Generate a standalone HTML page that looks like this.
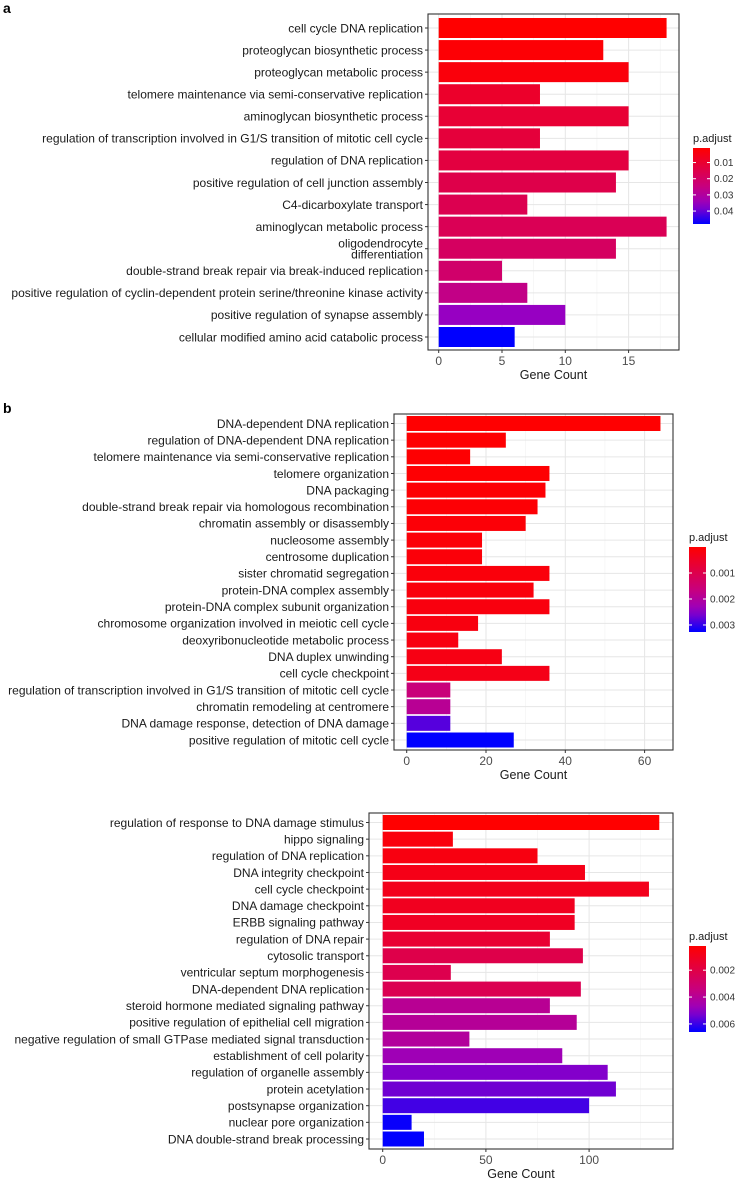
<!DOCTYPE html>
<html><head><meta charset="utf-8"><style>
html,body{margin:0;padding:0;background:#fff}
svg{display:block;font-family:"Liberation Sans",Arial,sans-serif}
</style></head><body>
<svg id="fig" width="736" height="1181" viewBox="0 0 736 1181" xmlns="http://www.w3.org/2000/svg">
<text x="3" y="13" font-size="14" font-weight="bold">a</text>
<text x="3" y="413" font-size="14" font-weight="bold">b</text>
</svg>
<script>
// Panel a data
const catsA = ["cell cycle DNA replication","proteoglycan biosynthetic process","proteoglycan metabolic process","telomere maintenance via semi-conservative replication","aminoglycan biosynthetic process","regulation of transcription involved in G1/S transition of mitotic cell cycle","regulation of DNA replication","positive regulation of cell junction assembly","C4-dicarboxylate transport","aminoglycan metabolic process","oligodendrocyte|differentiation","double-strand break repair via break-induced replication","positive regulation of cyclin-dependent protein serine/threonine kinase activity","positive regulation of synapse assembly","cellular modified amino acid catabolic process"];
const countsA = [18,13,15,8,15,8,15,14,7,18,14,5,7,10,6];
const padjA = [0.001,0.002,0.003,0.009,0.011,0.012,0.013,0.015,0.016,0.017,0.019,0.021,0.026,0.036,0.048];
const xTicksA = [0,5,10,15];
const legTicksA = [0.01,0.02,0.03,0.04];
const legLabelsA = ["0.01","0.02","0.03","0.04"];

// Panel b data
const catsB = ["DNA-dependent DNA replication","regulation of DNA-dependent DNA replication","telomere maintenance via semi-conservative replication","telomere organization","DNA packaging","double-strand break repair via homologous recombination","chromatin assembly or disassembly","nucleosome assembly","centrosome duplication","sister chromatid segregation","protein-DNA complex assembly","protein-DNA complex subunit organization","chromosome organization involved in meiotic cell cycle","deoxyribonucleotide metabolic process","DNA duplex unwinding","cell cycle checkpoint","regulation of transcription involved in G1/S transition of mitotic cell cycle","chromatin remodeling at centromere","DNA damage response, detection of DNA damage","positive regulation of mitotic cell cycle"];
const countsB = [64,25,16,36,35,33,30,19,19,36,32,36,18,13,24,36,11,11,11,27];
const padjB = [0.00001,0.00002,0.00003,0.00004,0.00005,0.00007,0.00009,0.0001,0.00012,0.00014,0.00016,0.00018,0.0002,0.00022,0.00025,0.0003,0.0016,0.0019,0.0028,0.00327];
const xTicksB = [0,20,40,60];
const legTicksB = [0.001,0.002,0.003];
const legLabelsB = ["0.001","0.002","0.003"];

// Panel c data
const catsC = ["regulation of response to DNA damage stimulus","hippo signaling","regulation of DNA replication","DNA integrity checkpoint","cell cycle checkpoint","DNA damage checkpoint","ERBB signaling pathway","regulation of DNA repair","cytosolic transport","ventricular septum morphogenesis","DNA-dependent DNA replication","steroid hormone mediated signaling pathway","positive regulation of epithelial cell migration","negative regulation of small GTPase mediated signal transduction","establishment of cell polarity","regulation of organelle assembly","protein acetylation","postsynapse organization","nuclear pore organization","DNA double-strand break processing"];
const countsC = [134,34,75,98,129,93,93,81,97,33,96,81,94,42,87,109,113,100,14,20];
const padjC = [0.0002,0.0005,0.0006,0.0008,0.0009,0.001,0.0011,0.0015,0.0021,0.0022,0.0023,0.0039,0.004,0.0041,0.0047,0.0052,0.0054,0.0059,0.0065,0.0066];
const xTicksC = [0,50,100];
const legTicksC = [0.002,0.004,0.006];
const legLabelsC = ["0.002","0.004","0.006"];

const NS="http://www.w3.org/2000/svg";
const svg=document.getElementById('fig');
function mk(tag,attrs,parent){const e=document.createElementNS(NS,tag);for(const k in attrs)e.setAttribute(k,attrs[k]);(parent||svg).appendChild(e);return e;}
function colorAt(t){
  t=Math.max(0,Math.min(1,t));
  const stops=[[0,255,0,0],[0.5,200,0,125],[0.75,150,0,195],[1,0,0,255]];
  for(let i=0;i<stops.length-1;i++){const a=stops[i],b=stops[i+1];
    if(t<=b[0]){const f=(t-a[0])/(b[0]-a[0]);return `rgb(${Math.round(a[1]+(b[1]-a[1])*f)},${Math.round(a[2]+(b[2]-a[2])*f)},${Math.round(a[3]+(b[3]-a[3])*f)})`;}}
  return 'rgb(0,0,255)';
}
let gid=0;
function panel(cfg){
  const g=mk('g',{});
  
  
  const n=cfg.cats.length;
  const xs=v=>cfg.x0+(v/cfg.unitVal)*cfg.unitPx;
  const ys=i=>cfg.yFirst+i*(cfg.yLast-cfg.yFirst)/(n-1);
  const col=p=>colorAt((p-cfg.dMin)/(cfg.dMax-cfg.dMin));
  mk('rect',{x:cfg.L,y:cfg.T,width:cfg.R-cfg.L,height:cfg.B-cfg.T,fill:'#fff'},g);
  for(let i=0;i<cfg.ticks.length;i++){
    const v=cfg.ticks[i]; const xm=xs(v+cfg.ticks[1]/2);
    if(xm<cfg.R) mk('line',{x1:xm,x2:xm,y1:cfg.T,y2:cfg.B,stroke:'#f2f2f2','stroke-width':0.6},g);
    mk('line',{x1:xs(v),x2:xs(v),y1:cfg.T,y2:cfg.B,stroke:'#e6e6e6','stroke-width':1},g);
  }
  for(let i=0;i<n;i++){mk('line',{x1:cfg.L,x2:cfg.R,y1:ys(i),y2:ys(i),stroke:'#e6e6e6','stroke-width':1},g);}
  for(let i=0;i<n;i++){
    const r=mk('rect',{x:xs(0),y:ys(i)-cfg.bh/2,width:xs(cfg.counts[i])-xs(0),height:cfg.bh,fill:col(cfg.padj[i])},g);
    
    
  }
  mk('rect',{x:cfg.L,y:cfg.T,width:cfg.R-cfg.L,height:cfg.B-cfg.T,fill:'none',stroke:'#333','stroke-width':1.1},g);
  for(let i=0;i<n;i++){
    const y=ys(i);
    mk('line',{x1:cfg.L-3,x2:cfg.L,y1:y,y2:y,stroke:'#333','stroke-width':1},g);
    const parts=cfg.cats[i].split('|');
    parts.forEach((p,k)=>{
      const t=mk('text',{x:cfg.L-5,y:y+4.3+(k-(parts.length-1)/2)*11,'font-size':12,'text-anchor':'end',fill:'#1a1a1a'},g);
      t.textContent=p;
      
      
    });
  }
  cfg.ticks.forEach(v=>{
    mk('line',{x1:xs(v),x2:xs(v),y1:cfg.B,y2:cfg.B+3,stroke:'#333','stroke-width':1},g);
    const t=mk('text',{x:xs(v),y:cfg.B+15,'font-size':12,'text-anchor':'middle',fill:'#4d4d4d'},g);
    t.textContent=v;
    
    
  });
  const xt=mk('text',{x:(cfg.L+cfg.R)/2,y:cfg.B+29,'font-size':12.5,'text-anchor':'middle',fill:'#1a1a1a'},g);
  xt.textContent='Gene Count';
  
  
  const id='grad'+(gid++);
  const defs=mk('defs',{},g);
  const lg=mk('linearGradient',{id:id,x1:0,y1:0,x2:0,y2:1},defs);
  for(let k=0;k<=10;k++){mk('stop',{offset:k/10,'stop-color':colorAt(k/10)},lg);}
  const lt=mk('text',{x:cfg.lx,y:cfg.lT-6,'font-size':11,fill:'#1a1a1a'},g);
  lt.textContent='p.adjust';
  
  
  const lb=mk('rect',{x:cfg.lx,y:cfg.lT,width:17,height:cfg.lB-cfg.lT,fill:`url(#${id})`},g);
  
  
  cfg.legTicks.forEach((v,k)=>{
    const y=cfg.lT+(v-cfg.dMin)/(cfg.dMax-cfg.dMin)*(cfg.lB-cfg.lT);
    mk('line',{x1:cfg.lx,x2:cfg.lx+3,y1:y,y2:y,stroke:'#fff','stroke-width':1},g);
    mk('line',{x1:cfg.lx+14,x2:cfg.lx+17,y1:y,y2:y,stroke:'#fff','stroke-width':1},g);
    const t=mk('text',{x:cfg.lx+21,y:y+3.5,'font-size':10,fill:'#333'},g);
    t.textContent=cfg.legLabels[k];
    
    
  });
}
panel({name:'chart-a',cats:catsA,counts:countsA,padj:padjA,ticks:xTicksA,legTicks:legTicksA,legLabels:legLabelsA,
  L:428,R:679,T:14,B:350,x0:438.7,unitVal:5,unitPx:63.3,yFirst:28,yLast:337,bh:20,
  dMin:0.001,dMax:0.048,lx:693,lT:148,lB:224});
panel({name:'chart-b',cats:catsB,counts:countsB,padj:padjB,ticks:xTicksB,legTicks:legTicksB,legLabels:legLabelsB,
  L:394,R:673,T:414,B:750,x0:406.7,unitVal:20,unitPx:79.3,yFirst:423.5,yLast:740,bh:15,
  dMin:0,dMax:0.00327,lx:689,lT:547,lB:632});
panel({name:'chart-c',cats:catsC,counts:countsC,padj:padjC,ticks:xTicksC,legTicks:legTicksC,legLabels:legLabelsC,
  L:369,R:673,T:813,B:1149,x0:382.7,unitVal:50,unitPx:103.2,yFirst:822.5,yLast:1139,bh:15,
  dMin:0.0002,dMax:0.0066,lx:689,lT:946,lB:1032});
</script>
</body></html>
